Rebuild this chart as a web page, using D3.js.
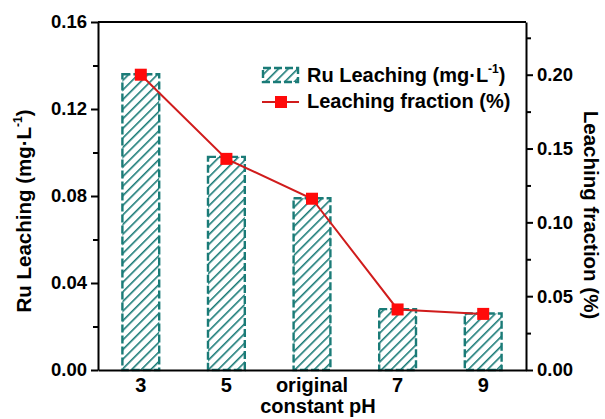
<!DOCTYPE html>
<html>
<head>
<meta charset="utf-8">
<script src="https://cdn.jsdelivr.net/npm/d3@7"></script>
<style>
  body { margin: 0; background: #fff; }
  svg { display: block; font-family: "Liberation Sans", Arial, sans-serif; font-weight: bold; }
</style>
</head>
<body>
<svg id="chart" width="605" height="419"></svg>
<script>
var categories = ['3', '5', 'original', '7', '9'];
var ruLeaching = [0.136, 0.098, 0.079, 0.028, 0.026];
var leachFraction = [0.200, 0.143, 0.116, 0.041, 0.038];
var leftTicks = [0, 0.04, 0.08, 0.12, 0.16];
var rightTicks = [0, 0.05, 0.10, 0.15, 0.20];

var teal = '#1a7b77';
var red = '#ff0a0a';
var lineRed = '#d01c1c';

var plotLeft = 98, plotRight = 526, plotTop = 22, plotBottom = 370;

var svg = d3.select('#chart');

var defs = svg.append('defs');
var pat = defs.append('pattern')
    .attr('id', 'hatch')
    .attr('patternUnits', 'userSpaceOnUse')
    .attr('width', 6.8)
    .attr('height', 6.8)
    .attr('patternTransform', 'rotate(45)');
pat.append('line')
    .attr('x1', 0).attr('y1', 0)
    .attr('x2', 0).attr('y2', 6.8)
    .attr('stroke', teal)
    .attr('stroke-width', 3.2);

var x = d3.scaleBand()
    .domain(categories)
    .range([plotLeft, plotRight])
    .paddingInner(0.57)
    .paddingOuter(0.285);

var yL = d3.scaleLinear().domain([0, 0.16]).range([plotBottom, plotTop]);
var yR = d3.scaleLinear().domain([0, 0.2357]).range([plotBottom, plotTop]);

// bars
svg.append('g').selectAll('rect')
    .data(ruLeaching)
  .enter().append('rect')
    .attr('x', function(d, i) { return x(categories[i]); })
    .attr('y', function(d) { return yL(d); })
    .attr('width', x.bandwidth())
    .attr('height', function(d) { return yL(0) - yL(d); })
    .attr('fill', 'url(#hatch)')
    .attr('stroke', teal)
    .attr('stroke-width', 2.4)
    .attr('stroke-dasharray', '8,3');

// line + markers
var line = d3.line()
    .x(function(d, i) { return x(categories[i]) + x.bandwidth() / 2; })
    .y(function(d) { return yR(d); });

svg.append('path')
    .datum(leachFraction)
    .attr('d', line)
    .attr('fill', 'none')
    .attr('stroke', lineRed)
    .attr('stroke-width', 2);

svg.append('g').selectAll('rect')
    .data(leachFraction)
  .enter().append('rect')
    .attr('x', function(d, i) { return x(categories[i]) + x.bandwidth() / 2 - 6; })
    .attr('y', function(d) { return yR(d) - 6; })
    .attr('width', 12)
    .attr('height', 12)
    .attr('fill', red);

// frame top
svg.append('line')
    .attr('x1', plotLeft).attr('x2', plotRight)
    .attr('y1', plotTop).attr('y2', plotTop)
    .attr('stroke', '#000').attr('stroke-width', 2);

function styleAxis(size) {
  return function(g) {
    g.selectAll('.domain').attr('stroke-width', 2);
    g.selectAll('.tick line').attr('stroke-width', 2);
    g.selectAll('text')
        .attr('font-size', size)
        .attr('font-weight', 'bold')
        .attr('font-family', '"Liberation Sans", Arial, sans-serif')
        .attr('fill', '#000');
  };
}

// minor ticks
var minorL = [0.02, 0.06, 0.10, 0.14];
var minorR = [0.025, 0.075, 0.125, 0.175, 0.225];

svg.append('g')
    .attr('transform', 'translate(' + plotLeft + ',0)')
    .call(d3.axisLeft(yL).tickValues(minorL).tickSize(5).tickFormat(''))
    .call(function(g) { g.select('.domain').remove(); g.selectAll('.tick line').attr('stroke-width', 2); });

svg.append('g')
    .attr('transform', 'translate(' + plotRight + ',0)')
    .call(d3.axisRight(yR).tickValues(minorR).tickSize(5).tickFormat(''))
    .call(function(g) { g.select('.domain').remove(); g.selectAll('.tick line').attr('stroke-width', 2); });

svg.append('g')
    .attr('transform', 'translate(' + plotLeft + ',0)')
    .call(d3.axisLeft(yL).tickValues(leftTicks).tickSize(7).tickSizeOuter(0).tickPadding(4).tickFormat(d3.format('.2f')))
    .call(styleAxis(18.5));

svg.append('g')
    .attr('transform', 'translate(' + plotRight + ',0)')
    .call(d3.axisRight(yR).tickValues(rightTicks).tickSize(7).tickSizeOuter(0).tickPadding(4).tickFormat(d3.format('.2f')))
    .call(styleAxis(18.5));

svg.append('g')
    .attr('transform', 'translate(0,' + plotBottom + ')')
    .call(d3.axisBottom(x).tickSize(0).tickPadding(8))
    .call(styleAxis(20));

// axis titles
var yTitle = svg.append('text')
    .attr('transform', 'translate(31,211) rotate(-90)')
    .attr('text-anchor', 'middle')
    .attr('font-size', 20.5);
yTitle.append('tspan').text('Ru Leaching (mg\u00b7L');
yTitle.append('tspan').attr('font-size', 12).attr('dy', -9).text('-1');
yTitle.append('tspan').attr('dy', 9).text(')');

svg.append('text')
    .attr('transform', 'translate(584,215) rotate(90)')
    .attr('text-anchor', 'middle')
    .attr('font-size', 20.5)
    .text('Leaching fraction (%)');

svg.append('text')
    .attr('x', (plotLeft + plotRight) / 2 + 6)
    .attr('y', 413)
    .attr('text-anchor', 'middle')
    .attr('font-size', 20)
    .text('constant pH');

// legend
var legend = svg.append('g');
legend.append('rect')
    .attr('x', 263).attr('y', 68)
    .attr('width', 35).attr('height', 14)
    .attr('fill', 'url(#hatch)')
    .attr('stroke', teal)
    .attr('stroke-width', 2.4)
    .attr('stroke-dasharray', '8,3');
var t1 = legend.append('text')
    .attr('x', 307).attr('y', 82)
    .attr('font-size', 20);
t1.append('tspan').text('Ru Leaching (mg\u00b7L');
t1.append('tspan').attr('font-size', 12).attr('dy', -9).text('-1');
t1.append('tspan').attr('dy', 9).text(')');

legend.append('line')
    .attr('x1', 262).attr('x2', 299)
    .attr('y1', 102).attr('y2', 102)
    .attr('stroke', lineRed).attr('stroke-width', 2);
legend.append('rect')
    .attr('x', 275).attr('y', 96)
    .attr('width', 12).attr('height', 12)
    .attr('fill', red);
legend.append('text')
    .attr('x', 307).attr('y', 108)
    .attr('font-size', 20)
    .text('Leaching fraction (%)');
</script>
</body>
</html>
